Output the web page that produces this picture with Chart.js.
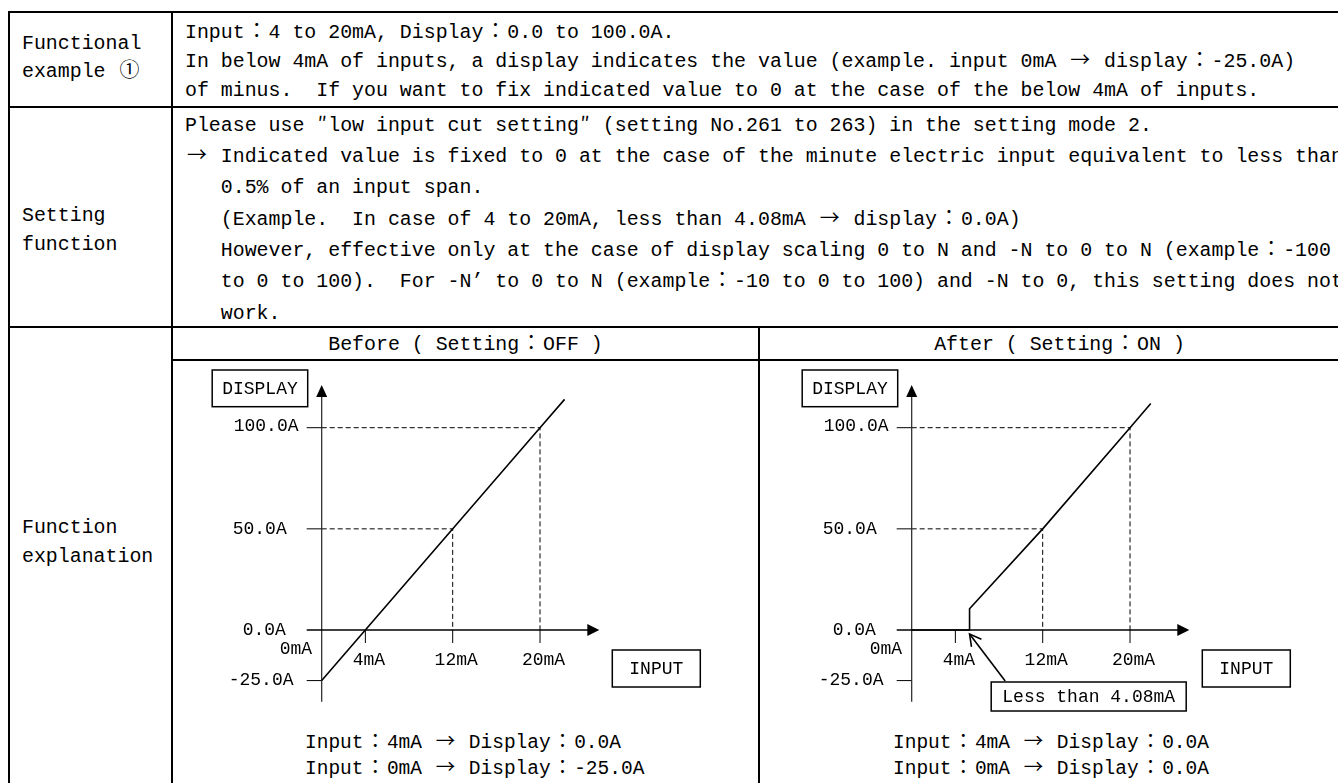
<!DOCTYPE html>
<html><head><meta charset="utf-8">
<script src="https://cdn.jsdelivr.net/npm/chart.js@4.4.1/dist/chart.umd.min.js"></script>
<style>
html,body{margin:0;padding:0;background:#fff;width:1338px;height:783px;overflow:hidden;}
body{position:relative;font-family:'Liberation Mono',monospace;color:#000;}
.b{position:absolute;background:#000;}
.t{position:absolute;white-space:pre;font-size:19.9px;line-height:24px;height:24px;}
.c{text-align:center;}
.s{font-size:19.5px;}
.fw{display:inline-block;width:1.2em;text-align:center;font-family:'Noto Sans CJK JP',sans-serif;line-height:0.8em;}
.hw{display:inline-block;width:0.6em;text-align:center;font-family:'Noto Sans CJK JP',sans-serif;line-height:0.8em;}
canvas{position:absolute;}
</style></head><body>
<div class="b" style="left:8px;top:11px;width:1330px;height:2px"></div>
<div class="b" style="left:8px;top:106px;width:1330px;height:2px"></div>
<div class="b" style="left:8px;top:326px;width:1330px;height:2px"></div>
<div class="b" style="left:171px;top:359px;width:1167px;height:2px"></div>
<div class="b" style="left:8px;top:11px;width:2px;height:772px"></div>
<div class="b" style="left:171px;top:11px;width:2px;height:772px"></div>
<div class="b" style="left:758px;top:326px;width:2px;height:457px"></div>
<div id="txt"></div>
<canvas id="before" width="570" height="360" style="left:180px;top:362px"></canvas>
<canvas id="after" width="570" height="360" style="left:770px;top:362px"></canvas>
<script>
// ---- chart data ----
const inputBefore = [0, 20, 22.25];
const displayBefore = [-25, 100, 114];
const inputAfter = [0, 5.3, 5.3, 12, 20, 21.9];
const displayAfter = [0, 0, 10.5, 50, 100, 112];
const yTickValues = [-25, 0, 50, 100];
const yTickLabels = ['-25.0A', '0.0A', '50.0A', '100.0A'];
const xTickValues = [0, 4, 12, 20];
const xTickLabels = ['0mA', '4mA', '12mA', '20mA'];
const guideInput = [12, 20];
const guideDisplay = [50, 100];
const cutInput = 5.3;
const cutLabel = 'Less than 4.08mA';

// ---- table text ----
function fmt(s){
  return s.replace(/[：→①]/g, c => '<span class="fw">' + c + '</span>')
          .replace(/[″]/g, c => '<span class="hw">' + c + '</span>');
}
const texts = [
  [22, 31.5, 'Functional'], [22, 59.5, 'example ①'],
  [22, 203.5, 'Setting'], [22, 232.5, 'function'],
  [22, 515.5, 'Function'], [22, 544.5, 'explanation'],
  [185, 20.5, 'Input：4 to 20mA, Display：0.0 to 100.0A.'],
  [185, 49.5, 'In below 4mA of inputs, a display indicates the value (example. input 0mA → display：-25.0A)'],
  [185, 78.5, 'of minus.  If you want to fix indicated value to 0 at the case of the below 4mA of inputs.'],
  [185, 113.5, 'Please use ″low input cut setting″ (setting No.261 to 263) in the setting mode 2.'],
  [185, 144.8, '→ Indicated value is fixed to 0 at the case of the minute electric input equivalent to less than'],
  [185, 176.2, '   0.5% of an input span.'],
  [185, 207.5, '   (Example.  In case of 4 to 20mA, less than 4.08mA → display：0.0A)'],
  [185, 238.8, '   However, effective only at the case of display scaling 0 to N and -N to 0 to N (example：-100'],
  [185, 270.2, '   to 0 to 100).  For -N’ to 0 to N (example：-10 to 0 to 100) and -N to 0, this setting does not'],
  [185, 301.5, '   work.']
];
let html = '';
texts.forEach(([x, y, s]) => { html += '<div class="t" style="left:' + x + 'px;top:' + y + 'px">' + fmt(s) + '</div>'; });
html += '<div class="t c" style="left:173px;width:585px;top:332.5px">' + fmt('Before ( Setting：OFF )') + '</div>';
html += '<div class="t c" style="left:760px;width:599px;top:332.5px">' + fmt('After ( Setting：ON )') + '</div>';
html += '<div class="t s" style="left:305px;top:731.2px">' + fmt('Input：4mA → Display：0.0A') + '</div>';
html += '<div class="t s" style="left:305px;top:756.8px">' + fmt('Input：0mA → Display：-25.0A') + '</div>';
html += '<div class="t s" style="left:893px;top:731.2px">' + fmt('Input：4mA → Display：0.0A') + '</div>';
html += '<div class="t s" style="left:893px;top:756.8px">' + fmt('Input：0mA → Display：0.0A') + '</div>';
document.getElementById('txt').innerHTML = html;

// ---- label placement styles ----
const yLabelDx = [-93, -79, -89, -88];
const yLabelDy = [0, 0.5, 0, -1.5];
const FONT = "18px 'Liberation Mono', monospace";

function box(ctx, l, t, r, b, text){
  ctx.lineWidth = 1.5; ctx.strokeStyle = '#000';
  ctx.strokeRect(l, t, r - l, b - t);
  ctx.textAlign = 'center'; ctx.textBaseline = 'middle';
  ctx.fillText(text, (l + r) / 2, (t + b) / 2 + 1);
}

const schematic = {
  id: 'schematic',
  beforeDatasetsDraw(chart){
    const {ctx, chartArea: a, scales: {x, y}} = chart;
    const X = v => x.getPixelForValue(v), Y = v => y.getPixelForValue(v);
    const x0 = X(0), y0 = Y(0);
    ctx.save();
    ctx.strokeStyle = '#000'; ctx.lineWidth = 1;
    ctx.setLineDash([5, 3]);
    guideInput.forEach((gx, i) => {
      const gy = guideDisplay[i];
      ctx.beginPath(); ctx.moveTo(x0, Y(gy)); ctx.lineTo(X(gx), Y(gy)); ctx.lineTo(X(gx), y0); ctx.stroke();
    });
    ctx.setLineDash([]);
    yTickValues.forEach(v => { if (v === 0) return;
      ctx.beginPath(); ctx.moveTo(a.left, Y(v)); ctx.lineTo(x0, Y(v)); ctx.stroke(); });
    xTickValues.forEach(v => { if (v === 0) return;
      ctx.beginPath(); ctx.moveTo(X(v), y0); ctx.lineTo(X(v), y0 + 13); ctx.stroke(); });
    // y axis with arrow
    ctx.strokeStyle = '#222'; ctx.lineWidth = 1.2;
    ctx.beginPath(); ctx.moveTo(x0, a.bottom); ctx.lineTo(x0, a.top + 10); ctx.stroke();
    ctx.fillStyle = '#000';
    ctx.beginPath(); ctx.moveTo(x0, a.top); ctx.lineTo(x0 - 5.5, a.top + 12); ctx.lineTo(x0 + 5.5, a.top + 12); ctx.closePath(); ctx.fill();
    // x axis with arrow
    ctx.strokeStyle = '#000'; ctx.lineWidth = 1.5;
    ctx.beginPath(); ctx.moveTo(a.left, y0); ctx.lineTo(a.right - 10, y0); ctx.stroke();
    ctx.beginPath(); ctx.moveTo(a.right, y0); ctx.lineTo(a.right - 12, y0 - 6); ctx.lineTo(a.right - 12, y0 + 6); ctx.closePath(); ctx.fill();
    ctx.restore();
  },
  afterDatasetsDraw(chart, args, opts){
    const {ctx, chartArea: a, scales: {x, y}} = chart;
    const X = v => x.getPixelForValue(v), Y = v => y.getPixelForValue(v);
    const x0 = X(0), y0 = Y(0);
    ctx.save();
    ctx.font = FONT; ctx.fillStyle = '#000';
    ctx.textBaseline = 'middle'; ctx.textAlign = 'left';
    yTickValues.forEach((v, i) => ctx.fillText(yTickLabels[i], x0 + yLabelDx[i], Y(v) + yLabelDy[i]));
    xTickValues.forEach((v, i) => {
      if (v === 0) { ctx.textAlign = 'left'; ctx.fillText(xTickLabels[i], x0 - 42, y0 + 19.5); }
      else { ctx.textAlign = 'center'; ctx.fillText(xTickLabels[i], X(v) + 3.5, y0 + 30); }
    });
    box(ctx, x0 - 109.5, a.top - 15, x0 - 14, a.top + 21.7, 'DISPLAY');
    box(ctx, a.right + 13, y0 + 20, a.right + 101, y0 + 57, 'INPUT');
    if (opts.callout) {
      box(ctx, x0 + 79.5, y0 + 52, x0 + 274.5, y0 + 81, cutLabel);
      const tx = X(cutInput), ty = y0 + 4, sx = x0 + 93.5, sy = y0 + 51;
      ctx.lineWidth = 1.6;
      ctx.beginPath(); ctx.moveTo(sx, sy); ctx.lineTo(tx, ty); ctx.stroke();
      const ang = Math.atan2(sy - ty, sx - tx), L = 13, w = 0.5;
      ctx.beginPath();
      ctx.moveTo(tx + L * Math.cos(ang - w), ty + L * Math.sin(ang - w));
      ctx.lineTo(tx, ty);
      ctx.lineTo(tx + L * Math.cos(ang + w), ty + L * Math.sin(ang + w));
      ctx.stroke();
    }
    ctx.restore();
  }
};

function makeChart(id, xs, ys, callout){
  return new Chart(document.getElementById(id), {
    type: 'scatter',
    data: { datasets: [{
      data: xs.map((v, i) => ({x: v, y: ys[i]})),
      showLine: true, borderColor: '#000', borderWidth: 1.6,
      pointRadius: 0, pointHoverRadius: 0, tension: 0, fill: false
    }]},
    options: {
      responsive: false, animation: false, events: [],
      layout: { padding: { left: 126.7, right: 150.7, top: 23, bottom: 20.3 } },
      plugins: { legend: {display: false}, tooltip: {enabled: false}, schematic: { callout } },
      scales: {
        x: { type: 'linear', min: -1.374, max: 25.43, display: false },
        y: { type: 'linear', min: -35.44, max: 121.1, display: false }
      }
    },
    plugins: [schematic]
  });
}
makeChart('before', inputBefore, displayBefore, false);
makeChart('after', inputAfter, displayAfter, true);
</script>
</body></html>
